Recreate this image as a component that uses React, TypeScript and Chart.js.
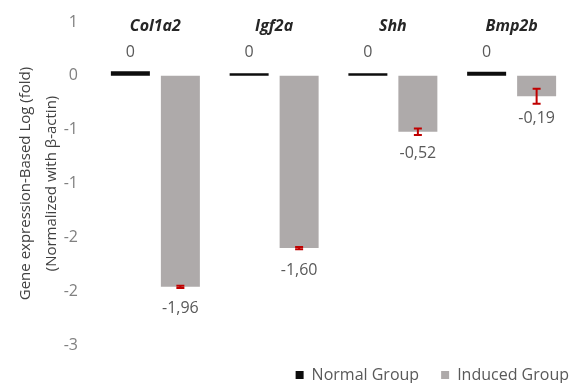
import React, { useEffect, useRef } from 'react';
import { Chart, registerables } from 'chart.js';

Chart.register(...registerables);

const categories = ['Col1a2', 'Igf2a', 'Shh', 'Bmp2b'];
const seriesNames = ['Normal Group', 'Induced Group'];
const normalValues = [0.042, 0.024, 0.024, 0.037];
const inducedValues = [-1.96, -1.6, -0.52, -0.19];
const inducedErrors = [0.01, 0.01, 0.03, 0.07];
const normalLabels = ['0', '0', '0', '0'];
const inducedLabels = ['-1,96', '-1,60', '-0,52', '-0,19'];
const yTickValues = [0.5, 0, -0.5, -1, -1.5, -2, -2.5];
const yTickLabels = ['1', '0', '-1', '-1', '-2', '-2', '-3'];
const yTitle = ['Gene expression-Based Log (fold)', '(Normalized with β-actin)'];

const FONT = '"Open Sans", sans-serif';

const barExtras = {
  id: 'barExtras',
  afterLayout(chart: any) {
    const lg = chart.legend;
    if (lg) {
      lg.left += 20;
      lg.right += 20;
    }
  },
  afterDatasetsDraw(chart: any) {
    const ctx = chart.ctx;
    const y = chart.scales.y;
    const m0 = chart.getDatasetMeta(0);
    const m1 = chart.getDatasetMeta(1);
    ctx.save();
    ctx.strokeStyle = '#C00000';
    ctx.lineWidth = 2;
    m1.data.forEach((bar: any, i: number) => {
      const v = inducedValues[i];
      const e = inducedErrors[i];
      const yTop = y.getPixelForValue(v + e);
      const yBot = y.getPixelForValue(v - e);
      const cap = 4;
      ctx.beginPath();
      ctx.moveTo(bar.x, yTop);
      ctx.lineTo(bar.x, yBot);
      ctx.moveTo(bar.x - cap, yTop);
      ctx.lineTo(bar.x + cap, yTop);
      ctx.moveTo(bar.x - cap, yBot);
      ctx.lineTo(bar.x + cap, yBot);
      ctx.stroke();
    });
    ctx.font = `16px ${FONT}`;
    ctx.fillStyle = '#595959';
    ctx.textAlign = 'center';
    ctx.textBaseline = 'middle';
    const zero = y.getPixelForValue(0);
    m0.data.forEach((bar: any, i: number) => {
      ctx.fillText(normalLabels[i], bar.x, zero - 23);
    });
    m1.data.forEach((bar: any, i: number) => {
      ctx.fillText(inducedLabels[i], bar.x, bar.y + 22);
    });
    ctx.restore();
  },
};

export default function App() {
  const ref = useRef<HTMLCanvasElement>(null);
  useEffect(() => {
    if (!ref.current) return;
    const chart = new Chart(ref.current, {
      type: 'bar',
      data: {
        labels: categories,
        datasets: [
          {
            label: seriesNames[0],
            data: normalValues,
            backgroundColor: '#0d0d0d',
            categoryPercentage: 0.842,
            barPercentage: 0.78,
          },
          {
            label: seriesNames[1],
            data: inducedValues,
            backgroundColor: '#AEAAAA',
            categoryPercentage: 0.842,
            barPercentage: 0.78,
          },
        ],
      },
      options: {
        responsive: false,
        animation: false,
        layout: { padding: { top: 22, left: 7, right: 3, bottom: 0 } },
        font: { family: FONT },
        scales: {
          x: {
            type: 'category',
            position: { y: 0.5 } as any,
            offset: true,
            grid: { display: false, drawTicks: false },
            border: { display: false },
            ticks: {
              padding: -5,
              color: '#262626',
              font: { family: FONT, size: 16, weight: 'bold', style: 'italic' },
            },
          },
          y: {
            min: -2.5,
            max: 0.5,
            afterFit: (scale: any) => {
              scale.width = 89;
              scale.paddingTop = 0;
              scale.paddingBottom = 0;
            },
            grid: { display: false, drawTicks: false },
            border: { display: false },
            ticks: {
              stepSize: 0.5,
              padding: 18,
              color: '#808080',
              font: { family: FONT, size: 16 },
              callback: (v: any) => {
                const idx = yTickValues.findIndex((t) => Math.abs(t - Number(v)) < 1e-9);
                return idx >= 0 ? yTickLabels[idx] : '';
              },
            },
            title: {
              display: true,
              text: yTitle,
              color: '#404040',
              font: { family: FONT, size: 15, lineHeight: 1.7 },
              padding: { top: 6, bottom: 4 },
            },
          },
        },
        plugins: {
          legend: {
            position: 'bottom',
            align: 'end',
            maxHeight: 38,
            labels: {
              boxWidth: 8,
              boxHeight: 8,
              padding: 22,
              color: '#595959',
              font: { family: FONT, size: 16 },
            },
          },
          tooltip: { enabled: false },
        },
      },
      plugins: [barExtras],
    } as any);
    return () => chart.destroy();
  }, []);
  return (
    <div style={{ position: 'fixed', left: 0, top: 0, width: 574, height: 383, background: '#fff' }}>
      <canvas ref={ref} width={574} height={383} />
    </div>
  );
}
